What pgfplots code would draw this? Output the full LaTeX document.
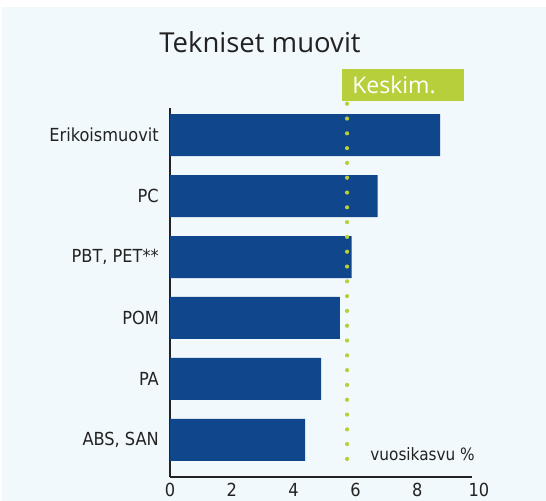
\documentclass[border=0pt]{standalone}
\usepackage{fontspec}
\setmainfont{DejaVu Sans}
\newfontfamily\condfont{DejaVu Sans Condensed}
\newfontfamily\titlefont{Open Sans}
\usepackage{pgfplots}
\pgfplotsset{compat=1.18}
\definecolor{bgblue}{HTML}{F2F9FC}
\definecolor{barblue}{HTML}{10468C}
\definecolor{limeg}{HTML}{B6CF3B}
\definecolor{txt}{HTML}{222222}
\begin{document}
\begin{tikzpicture}
\path[use as bounding box] (0bp,0bp) rectangle (546bp,501bp);
\fill[bgblue] (2bp,0bp) rectangle (546bp,494bp);
\node[anchor=base, text=txt, font=\titlefont\fontsize{27.5bp}{33bp}\selectfont, inner sep=0pt] at (260bp,448bp) {Tekniset muovit};
\begin{axis}[
  at={(170bp,24bp)}, anchor=south west,
  scale only axis, width=309bp, height=369bp,
  xmin=0, xmax=10, ymin=-0.607, ymax=5.443,
  axis lines=left,
  axis line style={-, line width=2bp, txt},
  x axis line style={shorten >=7bp},
  major tick length=0pt,
  xtick={0,2,4,6,8,10},
  ytick={0,1,2,3,4,5},
  yticklabels={{ABS, SAN},PA,POM,{PBT, PET**},PC,Erikoismuovit},
  y tick label style={font=\condfont\fontsize{18bp}{22bp}\selectfont, text=txt, anchor=east, inner sep=0pt, xshift=-11bp},
  x tick label style={font=\condfont\fontsize{18bp}{22bp}\selectfont, text=txt, anchor=north, inner sep=0pt, yshift=-6bp},
  /pgf/number format/assume math mode=true,
  clip=false,
]
\addplot[xbar, bar width=42bp, fill=barblue, draw=none, bar shift=0pt] coordinates {
  (4.37,0) (4.89,1) (5.50,2) (5.88,3) (6.72,4) (8.74,5)
};
\addplot[sharp plot, no marks, limeg, line width=4.2bp, line cap=round, dash pattern=on 0pt off 14.8bp] coordinates {
  (5.73,5.513) (5.73,-0.553)
};
\node[anchor=south west, fill=limeg, minimum width=122bp, minimum height=32bp, inner sep=0pt] (kb) at ([xshift=-5bp,yshift=7bp]axis cs:5.73,5.443) {};
\node[anchor=west, text=white, font=\titlefont\fontsize{23bp}{28bp}\selectfont, inner sep=0pt] at ([xshift=10bp,yshift=-0.5bp]kb.west) {Keskim.};
\node[anchor=base east, text=txt, font=\condfont\fontsize{17bp}{20bp}\selectfont, inner sep=0pt] at (axis cs:9.87,-0.33) {vuosikasvu \%};
\end{axis}
\end{tikzpicture}
\end{document}
